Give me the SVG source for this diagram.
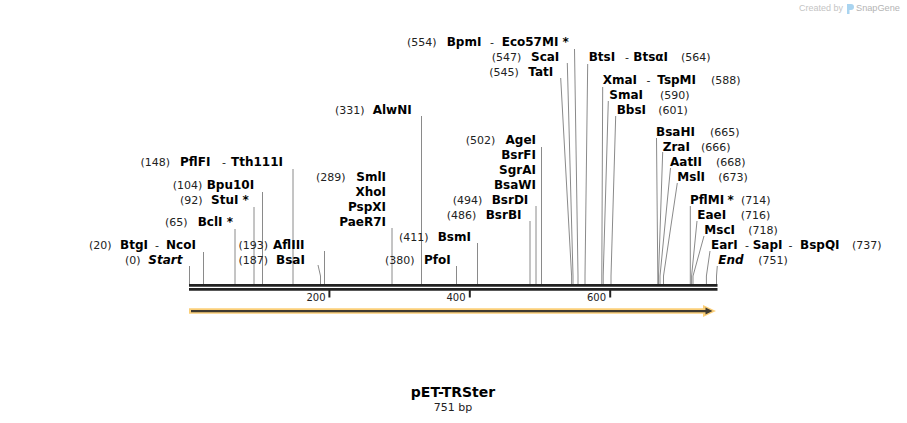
<svg xmlns="http://www.w3.org/2000/svg" width="907" height="423" viewBox="0 0 907 423">
<style>
text { font-family: "DejaVu Sans", Verdana, sans-serif; }
.n { font-size: 11px; fill: #222; }
.e { font-size: 12px; font-weight: bold; fill: #000; }
.i { font-style: italic; }
.c { fill: none; stroke: #8a8a8a; stroke-width: 1; }
.t { font-size: 10px; fill: #222; text-anchor: end; }
</style>
<rect width="907" height="423" fill="#fff"/>

<!-- watermark -->
<g id="watermark">
<text x="843" y="10.5" text-anchor="end" style="font-family:'Liberation Sans',Arial,sans-serif;font-size:9px;fill:#c4c4c4">Created by</text>
<path d="M847,4 h4 a3,3 0 0 1 0,6 h-1.5 v4 h-2.5 z" fill="#a9d4f0"/>
<text x="856" y="11" style="font-family:'Liberation Sans',Arial,sans-serif;font-size:9.2px;fill:#b4b4b4">SnapGene</text>
</g>

<!-- connectors -->
<g id="connectors">
<path class="c" d="M189.5,266 V284"/>
<path class="c" d="M203.5,252 V284"/>
<path class="c" d="M235,229 V284"/>
<path class="c" d="M254,207 V284"/>
<path class="c" d="M262.5,192 V284"/>
<path class="c" d="M293,169 V284"/>
<path class="c" d="M318,265 L320.5,276 V284"/>
<path class="c" d="M324.5,251 V284"/>
<path class="c" d="M392,228 V284"/>
<path class="c" d="M421.5,116 V284"/>
<path class="c" d="M456.5,266 V284"/>
<path class="c" d="M477.5,243 V284"/>
<path class="c" d="M530,221 V284"/>
<path class="c" d="M536,206 V284"/>
<path class="c" d="M541.5,147 V284"/>
<path class="c" d="M560.7,78 L571.6,276 V284"/>
<path class="c" d="M567.3,63 L573,276 V284"/>
<path class="c" d="M574.5,49 L578,276 V284"/>
<path class="c" d="M587.7,64 L585,276 V284"/>
<path class="c" d="M602.7,87 L601.8,276 V284"/>
<path class="c" d="M608.3,101 L603.2,276 V284"/>
<path class="c" d="M615.7,116 L611,276 V284"/>
<path class="c" d="M656.5,138 L657.8,276 V284"/>
<path class="c" d="M662.7,152 L658.5,276 V284"/>
<path class="c" d="M670.5,168 L660,276 V284"/>
<path class="c" d="M677.3,183 L663.5,276 V284"/>
<path class="c" d="M690.3,206 V284"/>
<path class="c" d="M697,221 L691.6,276 V284"/>
<path class="c" d="M704,236 L693,276 V284"/>
<path class="c" d="M710,251 L706.4,276 V284"/>
<path class="c" d="M717.3,266 L716.5,276 V284"/>
</g>

<!-- sequence -->
<g id="sequence">
<line x1="189" y1="285.3" x2="717.5" y2="285.3" stroke="#222" stroke-width="2.7"/>
<line x1="189" y1="289.4" x2="717.5" y2="289.4" stroke="#222" stroke-width="2.7"/>
<line x1="329.4" y1="290" x2="329.4" y2="297.5" stroke="#222" stroke-width="2"/>
<line x1="469.8" y1="290" x2="469.8" y2="297.5" stroke="#222" stroke-width="2"/>
<line x1="610.2" y1="290" x2="610.2" y2="297.5" stroke="#222" stroke-width="2"/>
<text class="t" x="325.5" y="300.5">200</text>
<text class="t" x="465.5" y="300.5">400</text>
<text class="t" x="606" y="300.5">600</text>
</g>

<!-- feature arrow -->
<g id="feature">
<line x1="189" y1="311" x2="708" y2="311" stroke="#fbcf78" stroke-width="5.5"/>
<polygon points="703,305 716,311 703,317" fill="#fbcf78"/>
<line x1="191" y1="311.1" x2="707" y2="311.1" stroke="#3f3a30" stroke-width="2.2"/>
<polygon points="705.5,307.6 712.5,311.1 705.5,314.6" fill="#3f3a30"/>
</g>

<!-- left labels -->
<g id="site-148"><text y="166"><tspan class="n" x="140.5">(148)</tspan><tspan class="e" x="180">PflFI</tspan><tspan class="n" x="222">-</tspan><tspan class="e" x="231">Tth111I</tspan></text></g>
<g id="site-104"><text y="189"><tspan class="n" x="172.7">(104)</tspan><tspan class="e" x="206.7">Bpu10I</tspan></text></g>
<g id="site-92"><text y="204"><tspan class="n" x="180">(92)</tspan><tspan class="e" x="211">StuI *</tspan></text></g>
<g id="site-65"><text y="226"><tspan class="n" x="165">(65)</tspan><tspan class="e" x="197.7">BclI *</tspan></text></g>
<g id="site-20"><text y="249"><tspan class="n" x="89">(20)</tspan><tspan class="e" x="120">BtgI</tspan><tspan class="n" x="155">-</tspan><tspan class="e" x="166">NcoI</tspan></text></g>
<g id="site-0"><text y="264"><tspan class="n" x="125">(0)</tspan><tspan class="e i" x="148.3">Start</tspan></text></g>
<g id="site-193"><text y="249"><tspan class="n" x="238.5">(193)</tspan><tspan class="e" x="273">AflIII</tspan></text></g>
<g id="site-187"><text y="264"><tspan class="n" x="238.5">(187)</tspan><tspan class="e" x="276">BsaI</tspan></text></g>

<!-- middle labels -->
<g id="site-289">
<text class="n" x="316" y="181">(289)</text>
<text class="e" x="386" y="181" text-anchor="end">SmlI</text>
<text class="e" x="386" y="196" text-anchor="end">XhoI</text>
<text class="e" x="386" y="211" text-anchor="end">PspXI</text>
<text class="e" x="386" y="226" text-anchor="end">PaeR7I</text>
</g>
<g id="site-331"><text y="114"><tspan class="n" x="335">(331)</tspan><tspan class="e" x="372.7">AlwNI</tspan></text></g>
<g id="site-380"><text y="264"><tspan class="n" x="385">(380)</tspan><tspan class="e" x="424">PfoI</tspan></text></g>
<g id="site-411"><text y="241"><tspan class="n" x="399">(411)</tspan><tspan class="e" x="437.7">BsmI</tspan></text></g>
<g id="site-502">
<text class="n" x="465.7" y="144">(502)</text>
<text class="e" x="536" y="144" text-anchor="end">AgeI</text>
<text class="e" x="536" y="159" text-anchor="end">BsrFI</text>
<text class="e" x="536" y="174" text-anchor="end">SgrAI</text>
<text class="e" x="536" y="189" text-anchor="end">BsaWI</text>
</g>
<g id="site-494"><text y="204"><tspan class="n" x="452.7">(494)</tspan><tspan class="e" x="491.7">BsrDI</tspan></text></g>
<g id="site-486"><text y="219"><tspan class="n" x="446.7">(486)</tspan><tspan class="e" x="485.7">BsrBI</tspan></text></g>

<!-- top labels -->
<g id="site-554"><text y="45.5"><tspan class="n" x="407">(554)</tspan><tspan class="e" x="446.7">BpmI</tspan><tspan class="n" x="490">-</tspan><tspan class="e" x="501.7">Eco57MI *</tspan></text></g>
<g id="site-547"><text y="61"><tspan class="n" x="491.7">(547)</tspan><tspan class="e" x="531">ScaI</tspan></text></g>
<g id="site-545"><text y="76"><tspan class="n" x="489.3">(545)</tspan><tspan class="e" x="528.3">TatI</tspan></text></g>
<g id="site-564"><text y="61"><tspan class="e" x="588.7">BtsI</tspan><tspan class="n" x="625">-</tspan><tspan class="e" x="633.3">BtsαI</tspan><tspan class="n" x="681">(564)</tspan></text></g>
<g id="site-588"><text y="84"><tspan class="e" x="602.7">XmaI</tspan><tspan class="n" x="646.5">-</tspan><tspan class="e" x="657.3">TspMI</tspan><tspan class="n" x="711">(588)</tspan></text></g>
<g id="site-590"><text y="99"><tspan class="e" x="609.3">SmaI</tspan><tspan class="n" x="660">(590)</tspan></text></g>
<g id="site-601"><text y="114"><tspan class="e" x="616.7">BbsI</tspan><tspan class="n" x="658.3">(601)</tspan></text></g>

<!-- right labels -->
<g id="site-665"><text y="136"><tspan class="e" x="656">BsaHI</tspan><tspan class="n" x="710">(665)</tspan></text></g>
<g id="site-666"><text y="151"><tspan class="e" x="662.7">ZraI</tspan><tspan class="n" x="701">(666)</tspan></text></g>
<g id="site-668"><text y="166"><tspan class="e" x="670">AatII</tspan><tspan class="n" x="716">(668)</tspan></text></g>
<g id="site-673"><text y="181"><tspan class="e" x="677.3">MslI</tspan><tspan class="n" x="718.3">(673)</tspan></text></g>
<g id="site-714"><text y="204"><tspan class="e" x="690">PflMI</tspan><tspan class="e" x="727.5">*</tspan><tspan class="n" x="741">(714)</tspan></text></g>
<g id="site-716"><text y="219"><tspan class="e" x="697.3">EaeI</tspan><tspan class="n" x="740.7">(716)</tspan></text></g>
<g id="site-718"><text y="234"><tspan class="e" x="704.3">MscI</tspan><tspan class="n" x="748.3">(718)</tspan></text></g>
<g id="site-737"><text y="249"><tspan class="e" x="711">EarI</tspan><tspan class="n" x="745">-</tspan><tspan class="e" x="752.7">SapI</tspan><tspan class="n" x="788.5">-</tspan><tspan class="e" x="800">BspQI</tspan><tspan class="n" x="852">(737)</tspan></text></g>
<g id="site-751"><text y="264"><tspan class="e i" x="718.3">End</tspan><tspan class="n" x="758.3">(751)</tspan></text></g>

<!-- title -->
<g id="title">
<text x="453" y="397" text-anchor="middle" style="font-size:14px;font-weight:bold;fill:#000">pET-TRSter</text>
<text x="453" y="411" text-anchor="middle" style="font-size:11px;fill:#222">751 bp</text>
</g>
</svg>
